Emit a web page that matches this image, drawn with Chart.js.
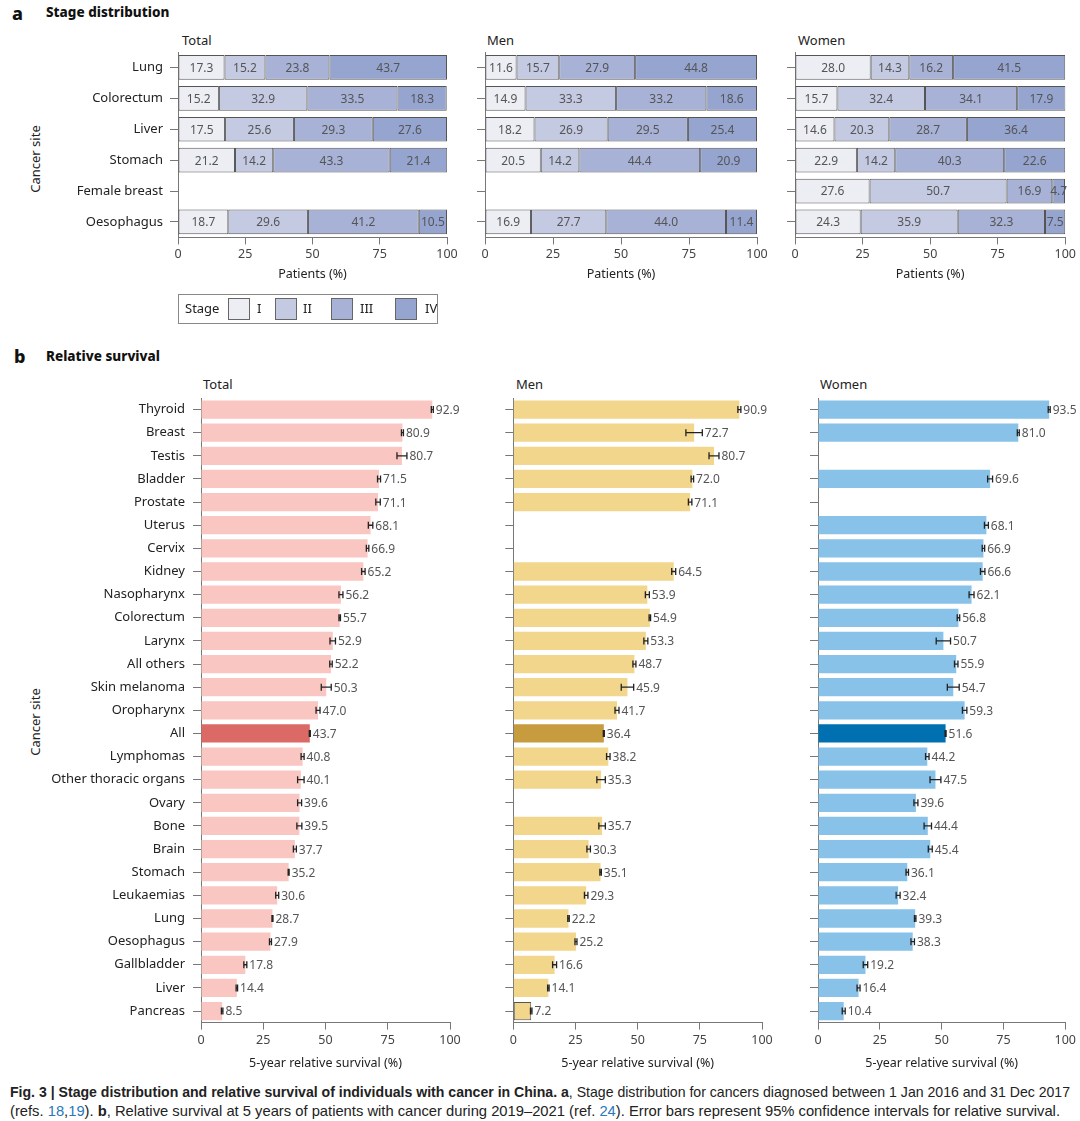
<!DOCTYPE html>
<html>
<head>
<meta charset="utf-8">
<script src="https://cdn.jsdelivr.net/npm/chart.js@4.4.1/dist/chart.umd.min.js"></script>
<style>
  body { margin: 0; background: #fff; font-family: "Noto Sans", sans-serif; color: #222; }
  #page { position: relative; width: 1080px; height: 1121px; overflow: hidden; }
  .box { position: absolute; }
  .txt { position: absolute; white-space: nowrap; line-height: 1; }
  .head { font-weight: 800; font-size: 13.5px; color: #111; }
  .letter { font-weight: 800; font-size: 18px; color: #111; }
  .ptitle { font-size: 13px; color: #222; }
  .side { font-size: 13px; color: #222; transform: translate(-50%, -50%) rotate(-90deg); }
  #legend { position: absolute; left: 178px; top: 294px; width: 258px; height: 28px; border: 1px solid #888; will-change: transform; }
  #legend .sw { position: absolute; top: 3px; width: 20px; height: 20px; border: 1px solid #666; }
  #legend .lb { position: absolute; top: 7px; font-size: 13px; line-height: 1; color: #222; }
  .cap { position: absolute; left: 10px; top: 1082px; font-family: "Liberation Sans", sans-serif; font-size: 15px; line-height: 19px; color: #222; white-space: nowrap; }
  .cap .line { display: block; transform-origin: 0 0; width: max-content; }
  .cap b { font-weight: bold; }
  .ref { color: #2a78b8; }
</style>
</head>
<body>
<div id="page">

  <div class="txt letter" style="left:12px; top:4px;">a</div>
  <div class="txt head" style="left:46px; top:6px;">Stage distribution</div>
  <div class="txt ptitle" style="left:182px; top:34px;">Total</div>
  <div class="txt ptitle" style="left:487px; top:34px;">Men</div>
  <div class="txt ptitle" style="left:798px; top:34px;">Women</div>
  <div class="txt side" style="left:35px; top:159px;">Cancer site</div>

  <div class="box" style="left:0px; top:32.3px; width:461px; height:251px;"><canvas id="stageTotal"></canvas></div>
  <div class="box" style="left:470px; top:32.3px; width:301px; height:251px;"><canvas id="stageMen"></canvas></div>
  <div class="box" style="left:780px; top:32.3px; width:299px; height:251px;"><canvas id="stageWomen"></canvas></div>

  <div id="legend">
    <div class="lb" style="left:6px;">Stage</div>
    <div class="sw" style="left:49px; background:#eceef4;"></div><div class="lb" style="left:78px;">I</div>
    <div class="sw" style="left:96px; background:#c5cae3;"></div><div class="lb" style="left:124px;">II</div>
    <div class="sw" style="left:152px; background:#a7b2d6;"></div><div class="lb" style="left:181px;">III</div>
    <div class="sw" style="left:216px; background:#96a5d0;"></div><div class="lb" style="left:246px;">IV</div>
  </div>

  <div class="txt letter" style="left:14px; top:347px;">b</div>
  <div class="txt head" style="left:46px; top:350px;">Relative survival</div>
  <div class="txt ptitle" style="left:203px; top:378px;">Total</div>
  <div class="txt ptitle" style="left:516px; top:378px;">Men</div>
  <div class="txt ptitle" style="left:820px; top:378px;">Women</div>
  <div class="txt side" style="left:35px; top:722px;">Cancer site</div>

  <div class="box" style="left:0px; top:377.7px; width:464px; height:693.3px;"><canvas id="survTotal"></canvas></div>
  <div class="box" style="left:500px; top:377.7px; width:276px; height:693.3px;"><canvas id="survMen"></canvas></div>
  <div class="box" style="left:805px; top:377.7px; width:274px; height:693.3px;"><canvas id="survWomen"></canvas></div>

  <div class="cap">
    <span class="line" data-w="1060"><b>Fig. 3 | Stage distribution and relative survival of individuals with cancer in China. a</b>, Stage distribution for cancers diagnosed between 1 Jan 2016 and 31 Dec 2017</span>
    <span class="line" data-w="1050">(refs. <span class="ref">18</span>,<span class="ref">19</span>). <b>b</b>, Relative survival at 5 years of patients with cancer during 2019–2021 (ref. <span class="ref">24</span>). Error bars represent 95% confidence intervals for relative survival.</span>
  </div>
</div>

<script>
/* =========================================================
   DATA
========================================================= */
const stageSites = ["Lung", "Colorectum", "Liver", "Stomach", "Female breast", "Oesophagus"];
const stageNames = ["I", "II", "III", "IV"];

const totalStageI   = [17.3, 15.2, 17.5, 21.2, null, 18.7];
const totalStageII  = [15.2, 32.9, 25.6, 14.2, null, 29.6];
const totalStageIII = [23.8, 33.5, 29.3, 43.3, null, 41.2];
const totalStageIV  = [43.7, 18.3, 27.6, 21.4, null, 10.5];

const menStageI   = [11.6, 14.9, 18.2, 20.5, null, 16.9];
const menStageII  = [15.7, 33.3, 26.9, 14.2, null, 27.7];
const menStageIII = [27.9, 33.2, 29.5, 44.4, null, 44.0];
const menStageIV  = [44.8, 18.6, 25.4, 20.9, null, 11.4];

const womenStageI   = [28.0, 15.7, 14.6, 22.9, 27.6, 24.3];
const womenStageII  = [14.3, 32.4, 20.3, 14.2, 50.7, 35.9];
const womenStageIII = [16.2, 34.1, 28.7, 40.3, 16.9, 32.3];
const womenStageIV  = [41.5, 17.9, 36.4, 22.6, 4.7, 7.5];

const survSites = ["Thyroid", "Breast", "Testis", "Bladder", "Prostate", "Uterus", "Cervix", "Kidney",
  "Nasopharynx", "Colorectum", "Larynx", "All others", "Skin melanoma", "Oropharynx", "All",
  "Lymphomas", "Other thoracic organs", "Ovary", "Bone", "Brain", "Stomach", "Leukaemias", "Lung",
  "Oesophagus", "Gallbladder", "Liver", "Pancreas"];

const totalSurv = [92.9, 80.9, 80.7, 71.5, 71.1, 68.1, 66.9, 65.2, 56.2, 55.7, 52.9, 52.2, 50.3, 47.0, 43.7,
  40.8, 40.1, 39.6, 39.5, 37.7, 35.2, 30.6, 28.7, 27.9, 17.8, 14.4, 8.5];
const totalErr = [0.4, 0.4, 2.0, 0.6, 0.9, 0.9, 0.5, 0.7, 0.8, 0.3, 1.1, 0.5, 2.0, 0.8, 0.2,
  0.6, 1.3, 0.8, 1.0, 0.6, 0.2, 0.6, 0.2, 0.4, 0.6, 0.3, 0.3];

const menSurv = [90.9, 72.7, 80.7, 72.0, 71.1, null, null, 64.5, 53.9, 54.9, 53.3, 48.7, 45.9, 41.7, 36.4,
  38.2, 35.3, null, 35.7, 30.3, 35.1, 29.3, 22.2, 25.2, 16.6, 14.1, 7.2];
const menErr = [0.6, 3.3, 2.0, 0.5, 0.7, null, null, 0.8, 0.8, 0.3, 0.8, 0.6, 2.5, 0.8, 0.2,
  0.7, 1.7, null, 1.3, 0.7, 0.3, 0.7, 0.3, 0.4, 0.8, 0.3, 0.3];

const womenSurv = [93.5, 81.0, null, 69.6, null, 68.1, 66.9, 66.6, 62.1, 56.8, 50.7, 55.9, 54.7, 59.3, 51.6,
  44.2, 47.5, 39.6, 44.4, 45.4, 36.1, 32.4, 39.3, 38.3, 19.2, 16.4, 10.4];
const womenErr = [0.4, 0.4, null, 1.0, null, 0.8, 0.5, 0.9, 1.0, 0.5, 2.9, 0.7, 2.4, 0.9, 0.2,
  0.7, 2.2, 0.8, 1.5, 0.8, 0.5, 0.8, 0.3, 0.7, 0.9, 0.6, 0.6];

const xTicks = [0, 25, 50, 75, 100];

/* =========================================================
   STYLE
========================================================= */
const stageColors = ["#eceef4", "#c5cae3", "#a7b2d6", "#96a5d0"];
const FONT = "Noto Sans";
Chart.defaults.font.family = FONT;
Chart.defaults.animation = false;

/* =========================================================
   PLUGINS
========================================================= */
const segmentLabels = {
  id: "segmentLabels",
  afterDatasetsDraw(chart) {
    const ctx = chart.ctx;
    ctx.save();
    ctx.font = `12px "${FONT}"`;
    ctx.fillStyle = "#555";
    ctx.textAlign = "center";
    ctx.textBaseline = "middle";
    chart.data.datasets.forEach((ds, di) => {
      chart.getDatasetMeta(di).data.forEach((el, i) => {
        const v = ds.data[i];
        if (v == null) return;
        ctx.fillText(v.toFixed(1), (el.x + el.base) / 2, el.y + 1);
      });
    });
    ctx.restore();
  }
};

const errorBars = {
  id: "errorBars",
  afterDatasetsDraw(chart, args, opts) {
    const ctx = chart.ctx;
    const x = chart.scales.x;
    const ds = chart.data.datasets[0];
    const meta = chart.getDatasetMeta(0);
    ctx.save();
    ctx.strokeStyle = "#222";
    ctx.lineWidth = 1.3;
    ctx.font = `12px "${FONT}"`;
    ctx.fillStyle = "#555";
    ctx.textBaseline = "middle";
    ds.data.forEach((v, i) => {
      if (v == null) return;
      const e = opts.err[i];
      const y = meta.data[i].y;
      const x0 = x.getPixelForValue(v - e);
      const x1 = x.getPixelForValue(v + e);
      ctx.beginPath();
      ctx.moveTo(x0, y); ctx.lineTo(x1, y);
      ctx.moveTo(x0, y - 3.5); ctx.lineTo(x0, y + 3.5);
      ctx.moveTo(x1, y - 3.5); ctx.lineTo(x1, y + 3.5);
      ctx.stroke();
      ctx.fillText(v.toFixed(1), x1 + 2.5, y + 1);
    });
    ctx.restore();
  }
};

/* =========================================================
   CHART BUILDERS
========================================================= */
function xScale(axisHeight, title) {
  return {
    type: "linear", min: 0, max: 100,
    afterBuildTicks: s => { s.ticks = xTicks.map(v => ({ value: v })); },
    afterFit: s => { s.height = axisHeight; },
    grid: { drawOnChartArea: false, tickLength: 7, color: "#777" },
    border: { color: "#777", width: 1 },
    ticks: { font: { size: 12.5 }, color: "#444", padding: 3 },
    title: { display: true, text: title, font: { size: 12.5 }, color: "#222", padding: 0 }
  };
}

function yScale(width, showLabels, padding) {
  return {
    afterFit: s => { s.width = width; },
    grid: { drawOnChartArea: false, offset: false, tickLength: 8, color: "#777" },
    border: { color: "#777", width: 1 },
    ticks: { display: showLabels, font: { size: 13 }, color: "#222", padding: padding, autoSkip: false }
  };
}

function makeStageChart(id, series, yWidth, showLabels, rightPad) {
  new Chart(document.getElementById(id), {
    type: "bar",
    data: {
      labels: stageSites,
      datasets: series.map((d, k) => ({
        label: stageNames[k],
        data: d,
        backgroundColor: stageColors[k],
        borderColor: "#555",
        borderWidth: 1,
        borderSkipped: false,
        barPercentage: 0.8,
        categoryPercentage: 1
      }))
    },
    options: {
      indexAxis: "y",
      responsive: true,
      maintainAspectRatio: false,
      layout: { padding: { top: 20, right: rightPad, bottom: 0.6, left: 0 } },
      plugins: { legend: { display: false }, tooltip: { enabled: false } },
      scales: {
        x: { ...xScale(45, "Patients (%)"), stacked: true },
        y: { ...yScale(yWidth, showLabels, 7), stacked: true }
      }
    },
    plugins: [segmentLabels]
  });
}

function makeSurvChart(id, values, errs, light, dark, yWidth, showLabels, rightPad, outlined) {
  const allIdx = survSites.indexOf("All");
  new Chart(document.getElementById(id), {
    type: "bar",
    data: {
      labels: survSites,
      datasets: [{
        data: values,
        backgroundColor: survSites.map((s, i) => i === allIdx ? dark : light),
        borderColor: "#555",
        borderWidth: survSites.map(s => s === outlined ? 1 : 0),
        borderSkipped: false,
        barPercentage: 0.79,
        categoryPercentage: 1
      }]
    },
    options: {
      indexAxis: "y",
      responsive: true,
      maintainAspectRatio: false,
      layout: { padding: { top: 20, right: rightPad, bottom: 0.7, left: 0 } },
      plugins: { legend: { display: false }, tooltip: { enabled: false }, errorBars: { err: errs } },
      scales: {
        x: xScale(48, "5-year relative survival (%)"),
        y: yScale(yWidth, showLabels, 8)
      }
    },
    plugins: [errorBars]
  });
}

/* =========================================================
   RENDER
========================================================= */
makeStageChart("stageTotal", [totalStageI, totalStageII, totalStageIII, totalStageIV], 178, true, 14);
makeStageChart("stageMen", [menStageI, menStageII, menStageIII, menStageIV], 15, false, 14);
makeStageChart("stageWomen", [womenStageI, womenStageII, womenStageIII, womenStageIV], 15, false, 12);

makeSurvChart("survTotal", totalSurv, totalErr, "#f9c6c1", "#db6a67", 201, true, 14, null);
makeSurvChart("survMen", menSurv, menErr, "#f2d68c", "#c69c3e", 13.3, false, 14, "Pancreas");
makeSurvChart("survWomen", womenSurv, womenErr, "#88c2e8", "#0070b0", 13, false, 12, null);

// squeeze caption lines to the width of the printed caption
document.querySelectorAll(".cap .line").forEach(el => {
  const w = el.getBoundingClientRect().width;
  el.style.transform = `scaleX(${+el.dataset.w / w})`;
});
</script>
</body>
</html>
